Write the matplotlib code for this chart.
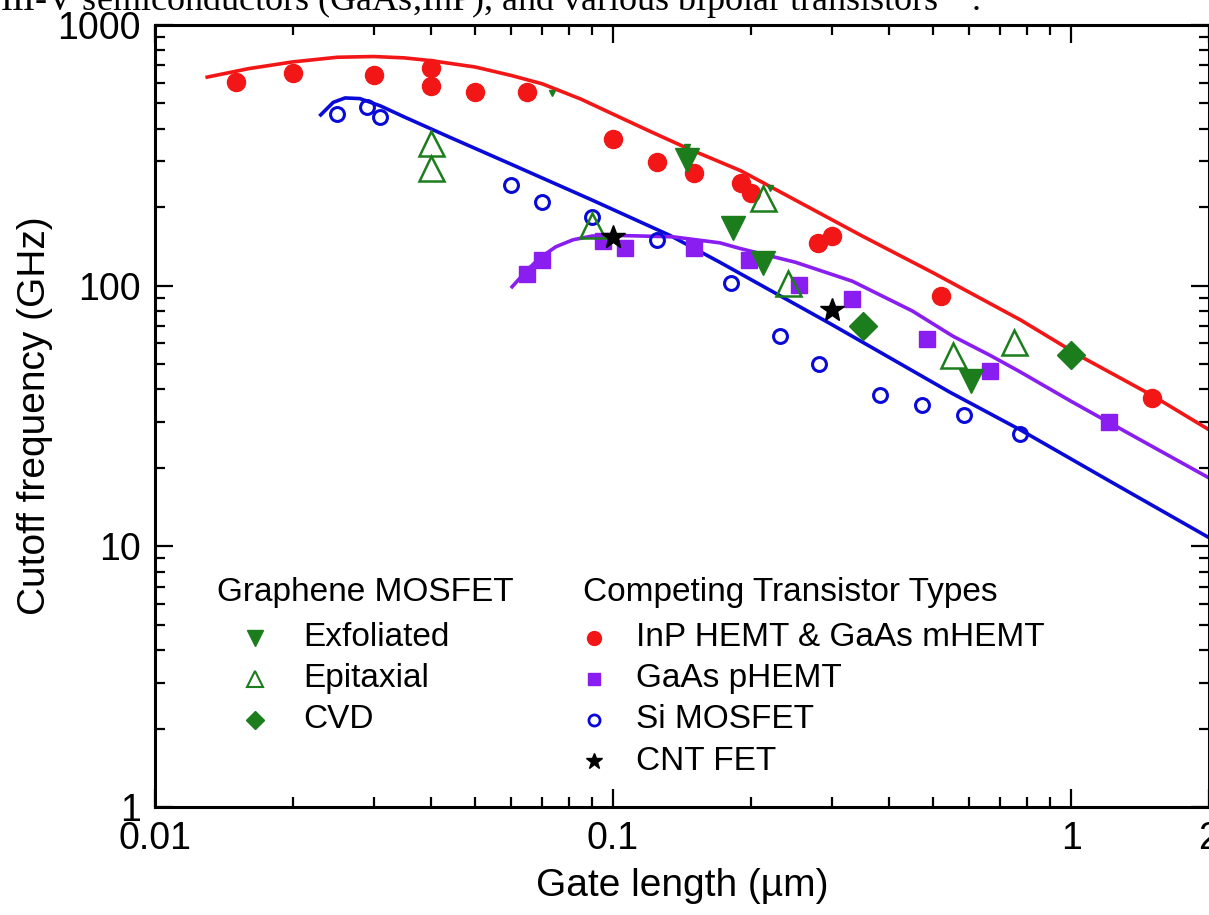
import numpy as np
import matplotlib.pyplot as plt
from matplotlib import font_manager

# Fonts: Arial-like
names = {f.name for f in font_manager.fontManager.ttflist}
SANS = 'Liberation Sans' if 'Liberation Sans' in names else 'DejaVu Sans'
plt.rcParams['font.family'] = [SANS, 'DejaVu Sans']

# Data (gate length in um, cutoff frequency in GHz)
inp_L = [0.015, 0.02, 0.03, 0.04, 0.04, 0.05, 0.065, 0.1, 0.125, 0.15, 0.19, 0.2, 0.28, 0.30, 0.52, 1.5]
inp_f = [604, 655, 642, 683, 583, 553, 553, 366, 298, 271, 248, 227, 146, 155, 91, 37]

phemt_L = [0.065, 0.07, 0.095, 0.106, 0.15, 0.198, 0.255, 0.333, 0.485, 0.666, 1.21]
phemt_f = [111, 126, 148, 140, 140, 126, 101, 89, 62.5, 47, 30]

si_L = [0.025, 0.029, 0.031, 0.06, 0.07, 0.09, 0.125, 0.181, 0.232, 0.282, 0.383, 0.473, 0.584, 0.774]
si_f = [456, 484, 444, 243, 209, 184, 150, 102, 64, 50, 38, 35, 32, 27]

cnt_L = [0.1, 0.3]
cnt_f = [154, 81]

exf_L = [0.145, 0.183, 0.213, 0.605]
exf_f = [303, 166, 122, 43]

epi_L = [0.04, 0.04, 0.09, 0.212, 0.241, 0.552, 0.751]
epi_f = [352, 283, 171, 217, 102, 54, 61]

cvd_L = [0.351, 1.0]
cvd_f = [70, 54]

# small green fragments visible on the red curve
frag_L = [0.0736, 0.145, 0.22]
frag_f = [548, 341, 237]

# Trend curves
red_L = [0.013, 0.016, 0.02, 0.025, 0.03, 0.035, 0.04, 0.05, 0.06, 0.07, 0.085, 0.1, 0.12, 0.145,
         0.19, 0.25, 0.35, 0.5, 0.774, 1.06, 1.5, 2.0]
red_f = [631, 680, 722, 752, 757, 748, 730, 690, 640, 595, 520, 455, 392, 337,
         276, 213, 155, 112, 74, 53, 38, 28]

blue_L = [0.023, 0.0245, 0.026, 0.028, 0.031, 0.035, 0.044, 0.06, 0.09, 0.133, 0.171, 0.3, 0.544,
          0.774, 1.2, 2.0]
blue_f = [452, 505, 525, 522, 490, 444, 371, 292, 213, 156, 123, 71, 39, 28, 18, 10.8]

purple_L = [0.0602, 0.065, 0.0693, 0.075, 0.0818, 0.09, 0.1, 0.135, 0.171, 0.189, 0.25, 0.333,
            0.45, 0.552, 0.666, 0.774, 1.0, 1.4, 2.0]
purple_f = [99, 115, 128, 141, 150, 155, 156, 154, 146, 139, 123, 104, 80, 64, 54, 46.7, 36,
            25.9, 18.3]

# Legend entries
graphene_labels = ['Exfoliated', 'Epitaxial', 'CVD']
competing_labels = ['InP HEMT & GaAs mHEMT', 'GaAs pHEMT', 'Si MOSFET', 'CNT FET']

RED = '#f21616'
BLUE = '#0a0ad8'
PURPLE = '#8a1ef0'
GREEN = '#1c7d1c'

W, H = 1209, 915
fig = plt.figure(figsize=(W / 100, H / 100), dpi=100)
ax = fig.add_axes([155 / W, 1 - 807 / H, (1209 - 155) / W, (807 - 25) / H])

ax.plot(red_L, red_f, color=RED, lw=2.6, zorder=2)
ax.plot(blue_L, blue_f, color=BLUE, lw=2.6, zorder=2)
ax.plot(purple_L, purple_f, color=PURPLE, lw=2.6, zorder=2)

ax.plot(inp_L, inp_f, 'o', color=RED, ms=13, mec=RED, zorder=3)
ax.plot(phemt_L, phemt_f, 's', color=PURPLE, ms=11, mec=PURPLE, zorder=3)
ax.plot(si_L, si_f, 'o', mfc='none', mec=BLUE, ms=10, mew=2.2, zorder=3)
ax.plot(epi_L, epi_f, '^', mfc='none', mec=GREEN, ms=18, mew=1.8, zorder=4)
ax.plot(exf_L, exf_f, 'v', color=GREEN, ms=17, zorder=4)
ax.plot(cvd_L, cvd_f, 'D', color=GREEN, ms=14, zorder=4)
ax.plot(cnt_L, cnt_f, '*', color='black', ms=18, zorder=5)
ax.plot(frag_L, frag_f, 'v', color=GREEN, ms=5, zorder=4)

ax.set_xscale('log')
ax.set_yscale('log')
ax.set_xlim(0.01, 2)
ax.set_ylim(1, 1000)
ax.set_xticks([0.01, 0.1, 1, 2])
ax.set_xticklabels(['0.01', '0.1', '1', '2'])
ax.set_yticks([1, 10, 100, 1000])
ax.set_yticklabels(['1', '10', '100', '1000'])
ax.tick_params(which='both', direction='in', top=True, right=True, width=1.6)
ax.tick_params(which='major', length=13, labelsize=27, pad=10)
ax.tick_params(which='minor', length=7)
for s in ax.spines.values():
    s.set_linewidth(2.2)

ax.set_xlabel('Gate length (µm)', fontsize=28, labelpad=8)
ax.set_ylabel('Cutoff frequency (GHz)', fontsize=28, labelpad=3)

# Legend drawn in pixel positions
def px(x, y):
    return x / W, 1 - y / H

fs = 24
fig.text(*px(217, 592), 'Graphene MOSFET', fontsize=fs, va='center')
g_styles = [dict(marker='v', color=GREEN, ms=11),
            dict(marker='^', mfc='none', mec=GREEN, ms=11, mew=1.5),
            dict(marker='D', color=GREEN, ms=9)]
rows = [638, 679, 720, 761]
for lab, st, y in zip(graphene_labels, g_styles, rows):
    fig.lines.append(plt.Line2D([255 / W], [1 - y / H], transform=fig.transFigure, ls='none', **st))
    fig.text(*px(303, y), lab, fontsize=fs, va='center')

fig.text(*px(583, 592), 'Competing Transistor Types', fontsize=fs, va='center')
c_styles = [dict(marker='o', color=RED, ms=10),
            dict(marker='s', color=PURPLE, ms=9),
            dict(marker='o', mfc='none', mec=BLUE, ms=8, mew=2),
            dict(marker='*', color='black', ms=12)]
for lab, st, y in zip(competing_labels, c_styles, rows):
    fig.lines.append(plt.Line2D([594 / W], [1 - y / H], transform=fig.transFigure, ls='none', **st))
    fig.text(*px(636, y), lab, fontsize=fs, va='center')

# clipped caption line at the top of the page
fig.text(0.0, 1 - 11 / H, 'III-V semiconductors (GaAs,InP), and various bipolar transistors$^{49}$.',
         fontsize=26, family=['Liberation Serif', 'DejaVu Serif'], va='baseline')

fig.savefig('out.png', dpi=100)
